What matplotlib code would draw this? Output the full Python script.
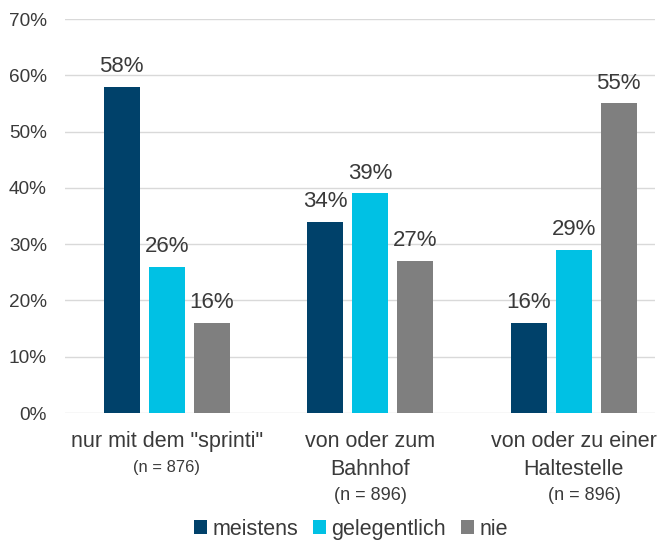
import matplotlib.pyplot as plt
import numpy as np

plt.rcParams["font.family"] = ["Liberation Sans", "DejaVu Sans"]

# --- data -------------------------------------------------------------------
categories = ['nur mit dem "sprinti"', "von oder zum\nBahnhof", "von oder zu einer\nHaltestelle"]
n_labels = ["(n = 876)", "(n = 896)", "(n = 896)"]
series = ["meistens", "gelegentlich", "nie"]
meistens = [58, 34, 16]
gelegentlich = [26, 39, 29]
nie = [16, 27, 55]
yticks = [0, 10, 20, 30, 40, 50, 60, 70]

colors = ["#00416A", "#00C1E4", "#7F7F7F"]
text_col = "#3A3A3A"

fig = plt.figure(figsize=(6.65, 5.44), dpi=100)
ax = fig.add_axes([65 / 665, 131 / 544, 590 / 665, 394 / 544])

x = np.arange(len(categories))
width = 0.177
step = 0.221
for i, (name, vals) in enumerate(zip(series, [meistens, gelegentlich, nie])):
    bars = ax.bar(x + (i - 1) * step, vals, width, color=colors[i], label=name, zorder=3)
    for b, v in zip(bars, vals):
        ax.annotate(f"{v}%", (b.get_x() + b.get_width() / 2, v), xytext=(0, 7),
                    textcoords="offset points", ha="center", va="bottom",
                    fontsize=16, color=text_col)

ax.set_xlim(-0.5, 2.4)
ax.set_ylim(0, 70)
ax.set_yticks(yticks)
ax.set_yticklabels([f"{t}%" for t in yticks], fontsize=13.7, color=text_col)
ax.yaxis.grid(True, color="#D9D9D9", linewidth=1.0, zorder=0)
ax.tick_params(axis="y", length=0, pad=13)
ax.tick_params(axis="x", length=0, pad=13)
ax.set_xticks(x)
ax.set_xticklabels(categories, fontsize=15.5, color=text_col, linespacing=1.42, va="top")
for s in ax.spines.values():
    s.set_visible(False)

# sample sizes under the category names
ax.text(0, -0.139, n_labels[0], fontsize=11.9, color=text_col, ha="center", va="center",
        transform=ax.get_xaxis_transform())
ax.text(1, -0.209, n_labels[1], fontsize=13, color=text_col, ha="center", va="center",
        transform=ax.get_xaxis_transform())
ax.text(2.054, -0.209, n_labels[2], fontsize=13, color=text_col, ha="center", va="center",
        transform=ax.get_xaxis_transform())

fig.legend(loc="lower center", bbox_to_anchor=(0.528, -0.016), ncol=3, frameon=False,
           fontsize=15.5, handlelength=0.6, handleheight=0.6, handletextpad=0.25,
           columnspacing=0.7, labelcolor=text_col, borderaxespad=0.2)

fig.savefig("out.png", dpi=100)
